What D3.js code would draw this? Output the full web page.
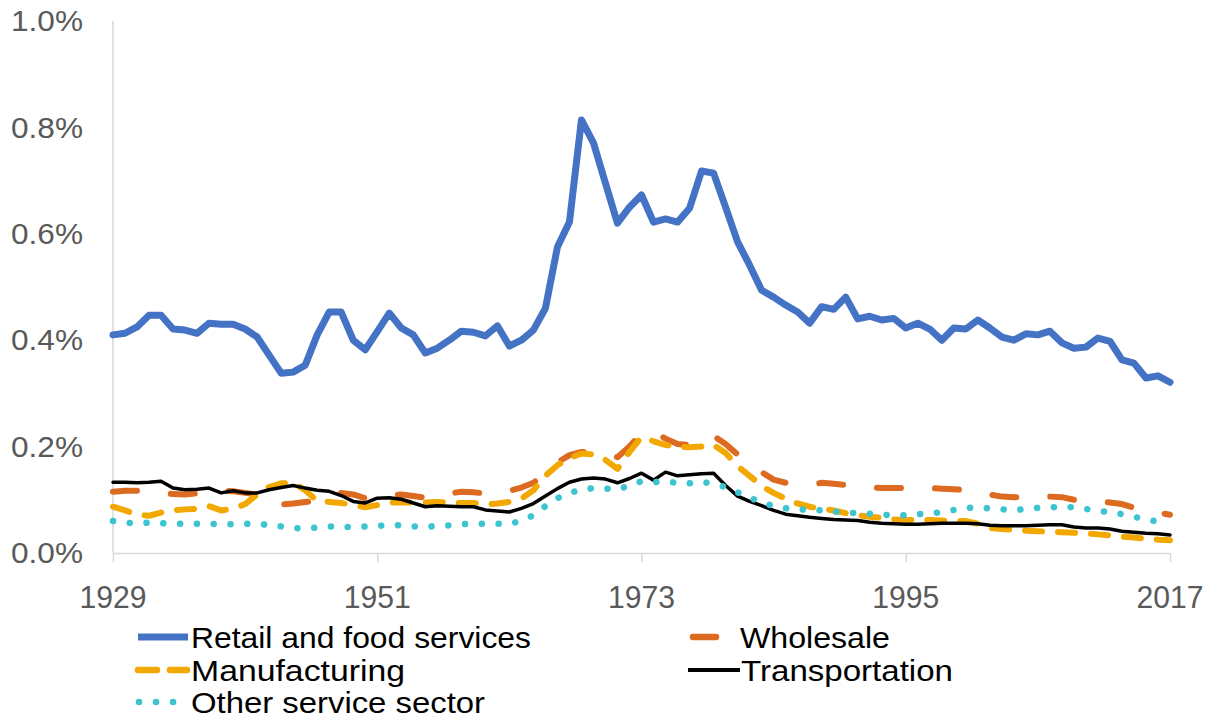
<!DOCTYPE html>
<html>
<head>
<meta charset="utf-8">
<script src="https://cdn.jsdelivr.net/npm/d3@7"></script>
<style>
  html, body { margin: 0; padding: 0; background: #ffffff; }
  svg { display: block; }
</style>
</head>
<body>
<svg id="chart" width="1214" height="719"></svg>
<script>
// ---------------- DATA ----------------
const years = d3.range(1929, 2018);
const xTickYears = [1929, 1951, 1973, 1995, 2017];
const xTickLabels = ["1929", "1951", "1973", "1995", "2017"];
const yTicks = [0, 0.2, 0.4, 0.6, 0.8, 1.0];
const yTickLabels = ["0.0%", "0.2%", "0.4%", "0.6%", "0.8%", "1.0%"];

const seriesNames = ["Retail and food services", "Wholesale", "Manufacturing", "Transportation", "Other service sector"];

const retail = [
  0.410,0.413,0.425,0.447,0.447,0.421,0.419,0.413,0.432,0.430,
  0.430,0.421,0.406,0.372,0.338,0.340,0.353,0.410,0.453,0.453,
  0.400,0.382,0.416,0.451,0.423,0.410,0.376,0.385,0.400,0.417,
  0.415,0.408,0.427,0.389,0.400,0.419,0.460,0.575,0.622,0.814,
  0.771,0.695,0.620,0.650,0.673,0.622,0.628,0.622,0.648,0.718,
  0.714,0.650,0.585,0.541,0.494,0.481,0.466,0.453,0.432,0.463,
  0.458,0.481,0.440,0.445,0.438,0.441,0.423,0.432,0.421,0.400,
  0.423,0.421,0.438,0.423,0.406,0.400,0.412,0.410,0.417,0.395,
  0.385,0.387,0.404,0.398,0.363,0.357,0.329,0.333,0.321
];
const wholesale = [
  0.115,0.117,0.117,0.115,0.112,0.111,0.110,0.112,0.115,0.117,
  0.116,0.113,0.110,0.100,0.091,0.093,0.096,0.098,0.105,0.113,
  0.110,0.103,0.104,0.108,0.110,0.107,0.104,0.109,0.112,0.115,
  0.114,0.112,0.113,0.117,0.123,0.132,0.150,0.170,0.184,0.190,
  0.190,0.188,0.180,0.200,0.225,0.228,0.215,0.205,0.203,0.212,
  0.220,0.205,0.185,0.168,0.152,0.138,0.132,0.130,0.128,0.132,
  0.130,0.128,0.126,0.124,0.122,0.122,0.122,0.122,0.122,0.121,
  0.120,0.118,0.115,0.110,0.106,0.105,0.105,0.106,0.106,0.105,
  0.100,0.097,0.096,0.095,0.092,0.085,0.080,0.076,0.072
];
const manufacturing = [
  0.087,0.080,0.072,0.070,0.076,0.080,0.082,0.083,0.088,0.080,
  0.083,0.092,0.110,0.124,0.131,0.132,0.118,0.098,0.096,0.094,
  0.090,0.086,0.090,0.095,0.095,0.095,0.095,0.096,0.095,0.094,
  0.094,0.091,0.093,0.096,0.102,0.118,0.145,0.165,0.178,0.187,
  0.185,0.175,0.158,0.190,0.218,0.210,0.203,0.200,0.199,0.200,
  0.203,0.188,0.163,0.145,0.126,0.113,0.102,0.093,0.087,0.083,
  0.080,0.075,0.071,0.068,0.066,0.063,0.062,0.062,0.062,0.061,
  0.060,0.060,0.055,0.047,0.045,0.044,0.042,0.041,0.040,0.039,
  0.038,0.037,0.035,0.033,0.031,0.029,0.027,0.025,0.024
];
const transportation = [
  0.133,0.133,0.132,0.133,0.135,0.122,0.119,0.120,0.122,0.113,
  0.117,0.113,0.113,0.119,0.123,0.127,0.122,0.118,0.116,0.108,
  0.097,0.094,0.103,0.104,0.101,0.094,0.087,0.089,0.088,0.087,
  0.087,0.081,0.079,0.077,0.084,0.093,0.107,0.121,0.133,0.139,
  0.141,0.139,0.132,0.140,0.150,0.137,0.152,0.145,0.147,0.149,
  0.150,0.127,0.107,0.097,0.089,0.080,0.073,0.070,0.067,0.065,
  0.063,0.062,0.061,0.058,0.056,0.055,0.054,0.054,0.055,0.056,
  0.056,0.056,0.055,0.052,0.051,0.051,0.051,0.052,0.053,0.053,
  0.049,0.047,0.047,0.045,0.041,0.039,0.037,0.036,0.034
];
const otherServices = [
  0.060,0.057,0.056,0.057,0.056,0.055,0.055,0.055,0.055,0.054,
  0.054,0.055,0.054,0.053,0.050,0.047,0.046,0.048,0.050,0.050,
  0.048,0.050,0.051,0.052,0.052,0.050,0.049,0.051,0.052,0.054,
  0.055,0.055,0.055,0.055,0.060,0.071,0.088,0.103,0.113,0.119,
  0.122,0.121,0.119,0.127,0.135,0.133,0.134,0.132,0.131,0.134,
  0.130,0.124,0.114,0.104,0.095,0.088,0.084,0.082,0.081,0.080,
  0.078,0.076,0.075,0.074,0.072,0.071,0.071,0.073,0.074,0.077,
  0.081,0.085,0.085,0.084,0.082,0.081,0.082,0.085,0.086,0.086,
  0.086,0.083,0.079,0.077,0.073,0.068,0.063,0.059,0.056
];

// ---------------- STYLES ----------------
const styles = [
  { color: "#4472C4", width: 7,   dash: null,       cap: "round" },
  { color: "#DD6A21", width: 6,   dash: "24,34",    cap: "round" },
  { color: "#F3A800", width: 6,   dash: "17,16",    cap: "round" },
  { color: "#000000", width: 3.5, dash: null,       cap: "round" },
  { color: "#3CC4D0", width: 6.5, dash: "0.1,16.7", cap: "round" }
];
const seriesData = [retail, wholesale, manufacturing, transportation, otherServices];

// ---------------- LAYOUT ----------------
const svg = d3.select("#chart");
const x = d3.scaleLinear().domain([1929, 2017]).range([113, 1170]);
const y = d3.scaleLinear().domain([0, 1.0]).range([553, 21]);

const fontFamily = "'Liberation Sans', Arial, sans-serif";

// Axes lines
svg.append("line")
  .attr("x1", x(1929)).attr("x2", x(1929))
  .attr("y1", y(1.0)).attr("y2", y(0))
  .attr("stroke", "#D9D9D9").attr("stroke-width", 1.5);

const xAxis = d3.axisBottom(x).tickValues(xTickYears).tickFormat("").tickSizeInner(9).tickSizeOuter(0);
const gx = svg.append("g").attr("transform", `translate(0,${y(0)})`).call(xAxis);
gx.select(".domain").attr("stroke", "#D9D9D9").attr("stroke-width", 1.5);
gx.selectAll(".tick line").attr("stroke", "#D9D9D9").attr("stroke-width", 1.5);

// X tick labels
svg.append("g").selectAll("text")
  .data(xTickYears)
  .join("text")
  .attr("x", d => x(d))
  .attr("y", 597)
  .attr("dy", "0.35em")
  .attr("text-anchor", "middle")
  .attr("font-family", fontFamily)
  .attr("font-size", 31)
  .attr("fill", "#595959")
  .attr("textLength", 67)
  .attr("lengthAdjust", "spacingAndGlyphs")
  .text((d, i) => xTickLabels[i]);

// Y tick labels
svg.append("g").selectAll("text")
  .data(yTicks)
  .join("text")
  .attr("x", 83)
  .attr("y", d => y(d))
  .attr("dy", "0.35em")
  .attr("text-anchor", "end")
  .attr("font-family", fontFamily)
  .attr("font-size", 29)
  .attr("fill", "#595959")
  .attr("textLength", 72)
  .attr("lengthAdjust", "spacingAndGlyphs")
  .text((d, i) => yTickLabels[i]);

// Lines
const line = d3.line().x((d, i) => x(years[i])).y(d => y(d));
seriesData.forEach((data, k) => {
  const s = styles[k];
  svg.append("path")
    .datum(data)
    .attr("d", line)
    .attr("fill", "none")
    .attr("stroke", s.color)
    .attr("stroke-width", s.width)
    .attr("stroke-linejoin", "round")
    .attr("stroke-linecap", s.cap)
    .attr("stroke-dasharray", s.dash);
});

// ---------------- LEGEND ----------------
const legendItems = [
  { k: 0, ly: 637, segs: [[138, 188]], tx: 191, tw: 340 },
  { k: 1, ly: 637, segs: [[693, 716]], tx: 740, tw: 150 },
  { k: 2, ly: 670, segs: [[138, 157], [170, 187]], tx: 191, tw: 214 },
  { k: 3, ly: 670, segs: [[688, 740]], tx: 741, tw: 212 },
  { k: 4, ly: 702, segs: [[139, 139.1], [156, 156.1], [173, 173.1]], tx: 191, tw: 294 }
];
const lg = svg.append("g");
legendItems.forEach(it => {
  const s = styles[it.k];
  it.segs.forEach(sg => {
    lg.append("line")
      .attr("x1", sg[0]).attr("x2", sg[1])
      .attr("y1", it.ly).attr("y2", it.ly)
      .attr("stroke", s.color)
      .attr("stroke-width", it.k === 3 ? 4 : (it.k === 0 ? 7 : 6.5))
      .attr("stroke-linecap", it.k === 0 || it.k === 3 ? "butt" : "round");
  });
  lg.append("text")
    .attr("x", it.tx)
    .attr("y", it.ly)
    .attr("dy", "0.35em")
    .attr("font-family", fontFamily)
    .attr("font-size", 30)
    .attr("fill", "#000000")
    .attr("textLength", it.tw)
    .attr("lengthAdjust", "spacingAndGlyphs")
    .text(seriesNames[it.k]);
});
</script>
</body>
</html>
